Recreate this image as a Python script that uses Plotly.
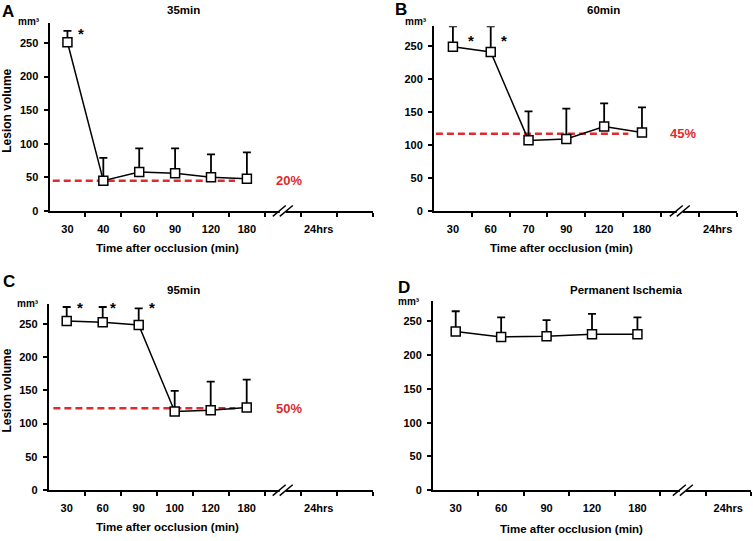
import plotly.graph_objects as go

W, H = 753, 541

# ---------------- data ----------------
a_labels = ["30", "40", "60", "90", "120", "180"]
a_mean = [251, 45, 58, 56, 50, 48]
a_err = [17, 34, 35, 37, 34, 39]
a_level = 45
a_pct = "20%"
a_stars = [(0.39, 267)]

b_labels = ["30", "60", "70", "90", "120", "180"]
b_mean = [249, 241, 107, 109, 128, 119]
b_err = [31, 39, 44, 46, 35, 38]
b_level = 117
b_pct = "45%"
b_stars = [(0.48, 262), (1.34, 262)]

c_labels = ["30", "60", "90", "100", "120", "180"]
c_mean = [254, 252, 248, 118, 120, 124]
c_err = [21, 23, 25, 31, 43, 42]
c_level = 123
c_pct = "50%"
c_stars = [(0.37, 278), (1.28, 278), (2.38, 278)]

d_labels = ["30", "60", "90", "120", "180"]
d_mean = [235, 227, 228, 231, 231]
d_err = [30, 29, 24, 30, 25]

y_ticks = [0, 50, 100, 150, 200, 250]
late_label = "24hrs"

FONT = "Liberation Sans, Arial, sans-serif"
RED = "#df2a2e"

panels = [
    dict(letter="A", title="35min", labels=a_labels, mean=a_mean, err=a_err,
         level=a_level, pct=a_pct, stars=a_stars,
         xd=(49.5, 372.5), yd=(23, 213.3), xmax_extra=2.5,
         line_x=(-0.41, 4.67), pct_x=6.16,
         letter_xy=(8, 12), title_xy=(183, 10), mm_xy=(29, 22),
         xt_xy=(167, 251), yt_xy=(7, 112)),
    dict(letter="B", title="60min", labels=b_labels, mean=b_mean, err=b_err,
         level=b_level, pct=b_pct, stars=b_stars,
         xd=(434, 736.5), yd=(26.6, 213.3), xmax_extra=1.5,
         line_x=(-0.45, 4.64), pct_x=6.08,
         letter_xy=(401, 10), title_xy=(603, 10), mm_xy=(416, 22),
         xt_xy=(561, 251), yt_xy=None),
    dict(letter="C", title="95min", labels=c_labels, mean=c_mean, err=c_err,
         level=c_level, pct=c_pct, stars=c_stars,
         xd=(48.7, 372.7), yd=(307.1, 495.7), xmax_extra=2.5,
         line_x=(-0.37, 4.68), pct_x=6.18,
         letter_xy=(9, 285), title_xy=(183, 293), mm_xy=(28, 307),
         xt_xy=(167, 533), yt_xy=(7, 395)),
    dict(letter="D", title="Permanent Ischemia", labels=d_labels, mean=d_mean, err=d_err,
         level=None, pct=None, stars=[],
         xd=(433, 751), yd=(304.5, 495.7), xmax_extra=1.5,
         line_x=None, pct_x=None,
         letter_xy=(404, 291), title_xy=(626, 293), mm_xy=(409, 305),
         xt_xy=(571, 535), yt_xy=None),
]


def paper(x, y):
    return x / W, 1 - y / H


fig = go.Figure()
annotations = []
shapes = []
layout_axes = {}

for i, p in enumerate(panels):
    n = i + 1
    xa = "x" if n == 1 else f"x{n}"
    ya = "y" if n == 1 else f"y{n}"
    xkey = "xaxis" if n == 1 else f"xaxis{n}"
    ykey = "yaxis" if n == 1 else f"yaxis{n}"

    nlab = len(p["labels"])
    idx = list(range(nlab))
    brk = nlab
    late = nlab + 1
    xmax = nlab + p["xmax_extra"]
    xr = [-0.5, xmax]

    x0d, x1d = p["xd"][0] / W, p["xd"][1] / W
    y0d, y1d = 1 - p["yd"][1] / H, 1 - p["yd"][0] / H

    ppu = (p["xd"][1] - p["xd"][0]) / (xr[1] - xr[0])  # px per x unit
    ph = p["yd"][1] - p["yd"][0]  # plot height px

    tickvals = idx + [late]
    ticktext = p["labels"] + [late_label]
    minor_vals = [k + 0.5 for k in range(int(xmax + 0.5))]

    layout_axes[xkey] = dict(
        domain=[x0d, x1d], range=xr, anchor=ya,
        showline=True, linecolor="black", linewidth=2,
        showgrid=False, zeroline=False,
        tickmode="array", tickvals=tickvals, ticktext=ticktext,
        ticks="", ticklabelstandoff=7,
        tickfont=dict(family=FONT, size=11, color="black", weight="bold"),
        minor=dict(tickmode="array", tickvals=minor_vals, ticks="outside",
                   ticklen=4, tickwidth=1.5, tickcolor="black", showgrid=False),
        fixedrange=True,
    )
    layout_axes[ykey] = dict(
        domain=[y0d, y1d], range=[0, 280], anchor=xa,
        showline=True, linecolor="black", linewidth=2,
        showgrid=False, zeroline=False,
        tickmode="array", tickvals=y_ticks,
        ticks="outside", ticklen=4, tickwidth=1.5, tickcolor="black",
        ticklabelstandoff=3,
        tickfont=dict(family=FONT, size=11, color="black", weight="bold"),
        fixedrange=True,
    )

    # reference level (dashed red)
    if p["level"] is not None:
        fig.add_trace(go.Scatter(
            x=list(p["line_x"]), y=[p["level"], p["level"]], mode="lines",
            line=dict(color=RED, width=2.5, dash="7px,4px"),
            xaxis=xa, yaxis=ya, showlegend=False, hoverinfo="skip"))
        annotations.append(dict(
            x=p["pct_x"], y=p["level"], xref=xa, yref=ya, text=p["pct"],
            showarrow=False, xanchor="center", yanchor="middle",
            font=dict(family=FONT, size=13, color=RED, weight="bold")))

    # data series
    fig.add_trace(go.Scatter(
        x=idx, y=p["mean"], mode="lines+markers",
        line=dict(color="black", width=1.5),
        marker=dict(symbol="square", size=9, color="white",
                    line=dict(color="black", width=1.5)),
        error_y=dict(type="data", symmetric=False, array=p["err"],
                     arrayminus=[0] * nlab, color="black", thickness=1.8, width=4),
        xaxis=xa, yaxis=ya, showlegend=False))

    # stars
    for sx, sy in p["stars"]:
        annotations.append(dict(
            x=sx, y=sy, xref=xa, yref=ya, text="*", showarrow=False,
            xanchor="center", yanchor="middle", yshift=-2,
            font=dict(family=FONT, size=15, color="black", weight="bold")))

    # axis break "//"
    bx = brk
    half_w = 6.5 / ppu
    off = 3.5 / ppu
    hy = 5.5 / ph
    gap_h = 2.5 / ph
    shapes.append(dict(type="rect", xref=xa, yref=f"{ya} domain",
                       x0=bx - off + 0.5 / ppu, x1=bx + off - 0.5 / ppu,
                       y0=-gap_h, y1=gap_h, fillcolor="white",
                       line=dict(width=0), layer="above"))
    for s in (-off, off):
        shapes.append(dict(type="line", xref=xa, yref=f"{ya} domain",
                           x0=bx + s - half_w, x1=bx + s + half_w,
                           y0=-hy, y1=hy, line=dict(color="black", width=1.5),
                           layer="above"))

    # texts
    lx, ly = paper(*p["letter_xy"])
    annotations.append(dict(x=lx, y=ly, xref="paper", yref="paper", text=p["letter"],
                            showarrow=False, xanchor="center", yanchor="middle",
                            font=dict(family=FONT, size=17, color="black", weight="bold")))
    tx, ty = paper(*p["title_xy"])
    annotations.append(dict(x=tx, y=ty, xref="paper", yref="paper", text=p["title"],
                            showarrow=False, xanchor="center", yanchor="middle",
                            font=dict(family=FONT, size=11.5, color="black", weight="bold")))
    mx, my = paper(*p["mm_xy"])
    annotations.append(dict(x=mx, y=my, xref="paper", yref="paper", text="mm³",
                            showarrow=False, xanchor="center", yanchor="middle",
                            font=dict(family=FONT, size=10, color="black", weight="bold")))
    xtx, xty = paper(*p["xt_xy"])
    annotations.append(dict(x=xtx, y=xty, xref="paper", yref="paper",
                            text="Time after occlusion (min)",
                            showarrow=False, xanchor="center", yanchor="middle",
                            font=dict(family=FONT, size=11.5, color="black", weight="bold")))
    if p["yt_xy"] is not None:
        yx, yy = paper(*p["yt_xy"])
        annotations.append(dict(x=yx, y=yy, xref="paper", yref="paper",
                                text="Lesion volume", textangle=-90,
                                showarrow=False, xanchor="center", yanchor="middle",
                                font=dict(family=FONT, size=12, color="black", weight="bold")))

fig.update_layout(
    width=W, height=H,
    margin=dict(l=0, r=0, t=0, b=0, pad=0),
    paper_bgcolor="white", plot_bgcolor="white",
    showlegend=False,
    annotations=annotations,
    shapes=shapes,
    **layout_axes,
)

fig.write_html(
    "out.html",
    config={"displayModeBar": False},
    post_script="document.body.style.margin='0';document.body.style.overflow='hidden';",
)
